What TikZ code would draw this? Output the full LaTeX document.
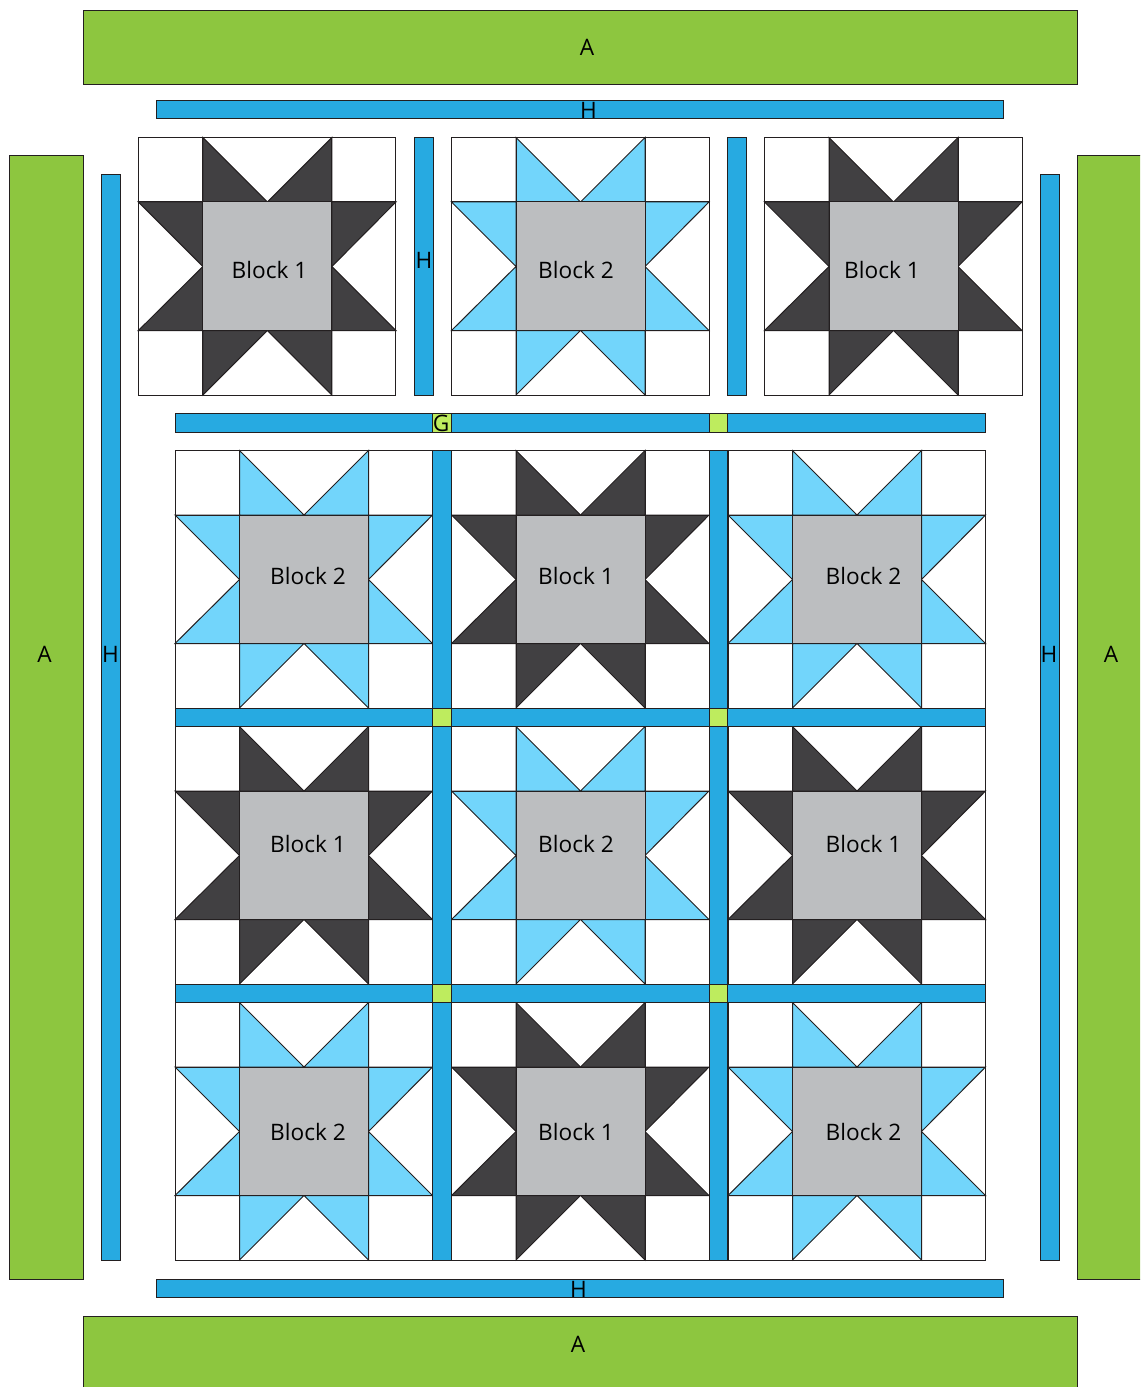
\documentclass[tikz,border=0pt]{standalone}
\usepackage{fontspec}
\setmainfont{Open Sans}
\definecolor{gA}{HTML}{8DC63F}
\definecolor{bH}{HTML}{27AAE1}
\definecolor{lb}{HTML}{72D5FB}
\definecolor{dk}{HTML}{414042}
\definecolor{gy}{HTML}{BCBEC0}
\definecolor{lm}{HTML}{BEEC5E}
\definecolor{ln}{HTML}{231F20}
\tikzset{
  x=0.75pt,y=-0.75pt,
  piece/.style={draw=ln,line width=0.75pt,line join=miter},
  greenstrip/.style={piece,fill=gA},
  bluestrip/.style={piece,fill=bH},
  limesq/.style={piece,fill=lm},
  lab/.style={font=\fontsize{17pt}{20pt}\selectfont,text=black,inner sep=0pt,anchor=center},
}
\newcommand{\qblock}[3]{% x, y, colour
  \begin{scope}[shift={(#1,#2)}]
    \draw[piece,fill=white] (0,0) rectangle (257.5,257.5);
    \draw[piece,fill=#3] (64.5,0) -- (64.5,64.5) -- (129,64.5) -- cycle;
    \draw[piece,fill=#3] (193.5,0) -- (193.5,64.5) -- (129,64.5) -- cycle;
    \draw[piece,fill=#3] (64.5,257.5) -- (64.5,193) -- (129,193) -- cycle;
    \draw[piece,fill=#3] (193.5,257.5) -- (193.5,193) -- (129,193) -- cycle;
    \draw[piece,fill=#3] (0,64.5) -- (64.5,64.5) -- (64.5,129) -- cycle;
    \draw[piece,fill=#3] (0,193) -- (64.5,193) -- (64.5,129) -- cycle;
    \draw[piece,fill=#3] (257.5,64.5) -- (193.5,64.5) -- (193.5,129) -- cycle;
    \draw[piece,fill=#3] (257.5,193) -- (193.5,193) -- (193.5,129) -- cycle;
    \draw[piece] (0,64.5) -- (257.5,64.5) (0,193) -- (257.5,193) (64.5,0) -- (64.5,257.5) (193.5,0) -- (193.5,257.5);
    \draw[piece,fill=gy] (64.5,64.5) rectangle (193.5,193);
  \end{scope}
}
\begin{document}
\begin{tikzpicture}
\useasboundingbox (0,0) rectangle (1140,1387);
\begin{scope}
\clip (0,0) rectangle (1140,1387);
% green borders
\draw[greenstrip] (83,11) rectangle (1077.5,84.5);
\draw[greenstrip] (83,1316) rectangle (1077.5,1400);
\draw[greenstrip] (9.5,155.5) rectangle (83,1279);
\draw[greenstrip] (1077.5,155.5) rectangle (1150,1279);
% outer blue strips
\draw[bluestrip] (156,100.5) rectangle (1003.5,119);
\draw[bluestrip] (156,1279.5) rectangle (1003.5,1297.5);
\draw[bluestrip] (101.5,174.5) rectangle (120,1260);
\draw[bluestrip] (1040.5,174.5) rectangle (1059,1260);
% top row sashes
\draw[bluestrip] (414.5,138) rectangle (433,395);
\draw[bluestrip] (727.5,138) rectangle (746,395);
% blocks
\qblock{138.4}{137.5}{dk}
\qblock{451.5}{137.5}{lb}
\qblock{764.5}{137.5}{dk}
\qblock{175}{450.5}{lb}
\qblock{451.5}{450.5}{dk}
\qblock{728}{450.5}{lb}
\qblock{175}{726.5}{dk}
\qblock{451.5}{726.5}{lb}
\qblock{728}{726.5}{dk}
\qblock{175}{1002.5}{lb}
\qblock{451.5}{1002.5}{dk}
\qblock{728}{1002.5}{lb}
% horizontal sashes
\draw[bluestrip] (175,413.5) rectangle (985.5,432);
\draw[bluestrip] (175,708) rectangle (985.5,726.5);
\draw[bluestrip] (175,984) rectangle (985.5,1002.5);
% vertical sashes
\draw[bluestrip] (432.5,450.5) rectangle (451,1260);
\draw[bluestrip] (709,450.5) rectangle (727.5,1260);
% cornerstones
\foreach \yy in {413.5,708,984}{
  \draw[limesq] (432.5,\yy) rectangle (451,\yy+18.5);
  \draw[limesq] (709,\yy) rectangle (727.5,\yy+18.5);
}
\end{scope}
% labels
\node[lab] (a1) at (587,47) {A};
\node[lab] (a2) at (578,1344) {A};
\node[lab] (a3) at (44.5,654) {A};
\node[lab] (a4) at (1111,654) {A};
\node[lab] (h1) at (588.5,110) {H};
\node[lab] (h2) at (578.5,1289) {H};
\node[lab] (h3) at (110.5,654) {H};
\node[lab] (h4) at (1049,654) {H};
\node[lab] (h5) at (424,260) {H};
\node[lab] (g1) at (441,423) {G};
\node[lab] (b1) at (269.5,270) {Block 1};
\node[lab] (b2) at (576,270) {Block 2};
\node[lab] (b3) at (882,270) {Block 1};
\node[lab] (b4) at (308,576) {Block 2};
\node[lab] (b5) at (576,576) {Block 1};
\node[lab] (b6) at (863.5,576) {Block 2};
\node[lab] (b7) at (308,844) {Block 1};
\node[lab] (b8) at (576,844) {Block 2};
\node[lab] (b9) at (863.5,844) {Block 1};
\node[lab] (b10) at (308,1132) {Block 2};
\node[lab] (b11) at (576,1132) {Block 1};
\node[lab] (b12) at (863.5,1132) {Block 2};
\end{tikzpicture}
\end{document}
